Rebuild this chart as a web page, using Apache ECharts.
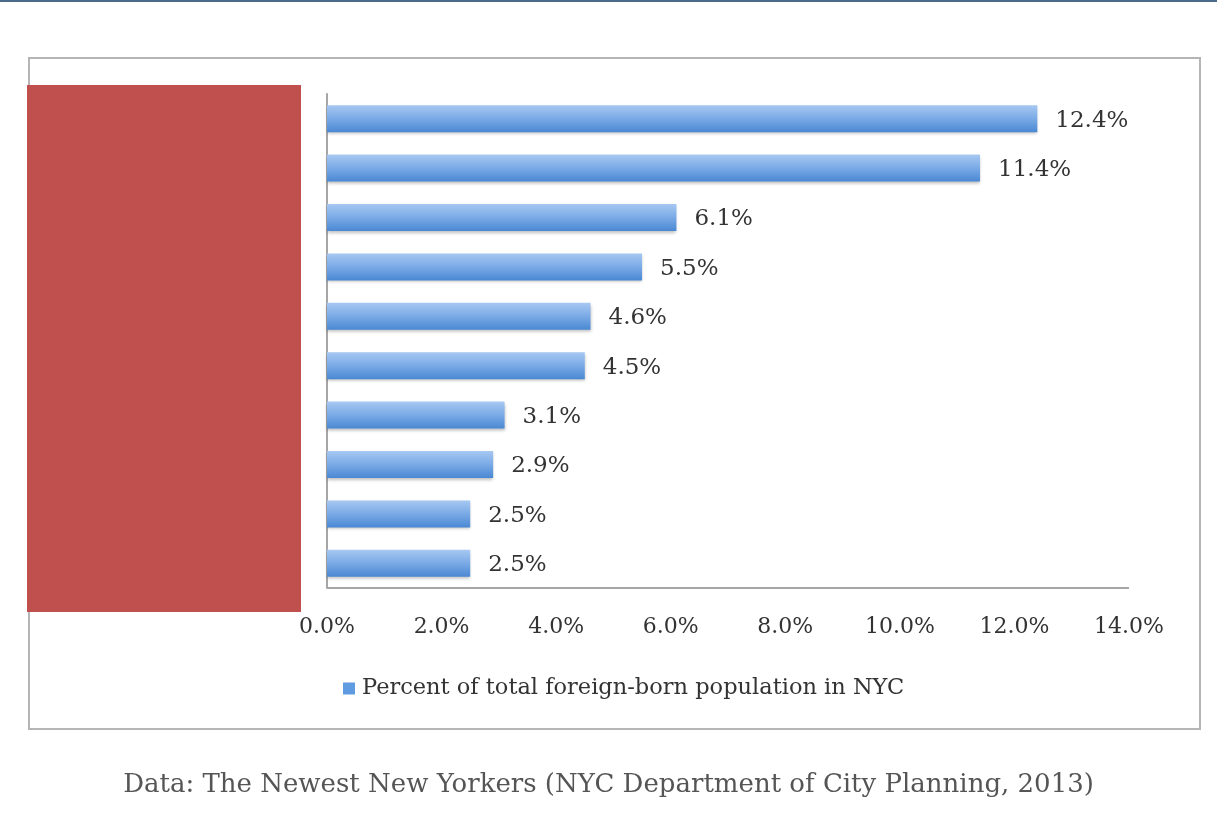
<!DOCTYPE html>
<html>
<head>
<meta charset="utf-8">
<script src="https://cdn.jsdelivr.net/npm/echarts@6/dist/echarts.min.js"></script>
<style>
  html, body { margin: 0; padding: 0; background: #fff; }
  #main { width: 1217px; height: 821px; }
</style>
</head>
<body>
<div id="main"></div>
<script>
// data (category names sit under the red block in the picture)
var countries = ['Russia', 'India', 'Trinidad and Tobago', 'Haiti', 'Ecuador',
                 'Guyana', 'Jamaica', 'Mexico', 'China', 'Dominican Republic'];
var shares = [2.5, 2.5, 2.9, 3.1, 4.5, 4.6, 5.5, 6.1, 11.4, 12.4];
var seriesName = 'Percent of total foreign-born population in NYC';
var caption = 'Data: The Newest New Yorkers (NYC Department of City Planning, 2013)';

var chart = echarts.init(document.getElementById('main'));
var serif = '"DejaVu Serif", serif';

chart.setOption({
    animation: false,
    grid: { left: 327, right: 88, top: 94, bottom: 233 },
    xAxis: {
        type: 'value',
        min: 0, max: 14, interval: 2,
        axisLine: { show: false },
        axisTick: { show: false },
        splitLine: { show: false },
        axisLabel: {
            margin: 28,
            color: '#333',
            fontFamily: serif,
            fontSize: 22,
            formatter: function (v) { return v.toFixed(1) + '%'; }
        }
    },
    yAxis: {
        type: 'category',
        data: countries,
        axisLine: { lineStyle: { color: '#a6a6a6', width: 2 } },
        axisTick: { show: false },
        axisLabel: { show: false }
    },
    legend: {
        bottom: 116,
        left: 338,
        itemWidth: 12, itemHeight: 12,
        itemGap: 8,
        itemStyle: { color: '#5f9be0' },
        textStyle: { color: '#333', fontFamily: serif, fontSize: 22.5, padding: [0, 0, 0, 2] },
        data: [{ name: seriesName, icon: 'rect' }]
    },
    series: [{
        name: seriesName,
        type: 'bar',
        data: shares,
        barWidth: 27,
        itemStyle: {
            color: new echarts.graphic.LinearGradient(0, 0, 0, 1, [
                { offset: 0, color: '#a7c8f2' },
                { offset: 0.5, color: '#7aaae6' },
                { offset: 1, color: '#4a88d3' }
            ]),
            shadowColor: 'rgba(0,0,0,0.25)',
            shadowBlur: 3,
            shadowOffsetY: 2
        },
        label: {
            show: true,
            position: 'right',
            distance: 18,
            offset: [0, 2],
            color: '#333',
            fontFamily: serif,
            fontSize: 23,
            formatter: function (p) { return p.value.toFixed(1) + '%'; }
        }
    }],
    graphic: [
        { type: 'rect', shape: { x: 0, y: 0, width: 1217, height: 2 },
          style: { fill: '#4b6b8c' }, z: 10 },
        { type: 'rect', shape: { x: 29, y: 58, width: 1171, height: 671 },
          style: { fill: 'none', stroke: '#b5b5b5', lineWidth: 2 }, z: -1 },
        // x axis baseline
        { type: 'line', shape: { x1: 327, y1: 588, x2: 1129, y2: 588 },
          style: { stroke: '#a6a6a6', lineWidth: 2 }, z: 5 },
        { type: 'rect', shape: { x: 27, y: 85, width: 274, height: 527 },
          style: { fill: '#c0504d' }, z: 20 },
        { type: 'text', left: 'center', top: 772,
          style: { text: caption, fill: '#555', font: '26px ' + serif }, z: 10 }
    ]
});
</script>
</body>
</html>
